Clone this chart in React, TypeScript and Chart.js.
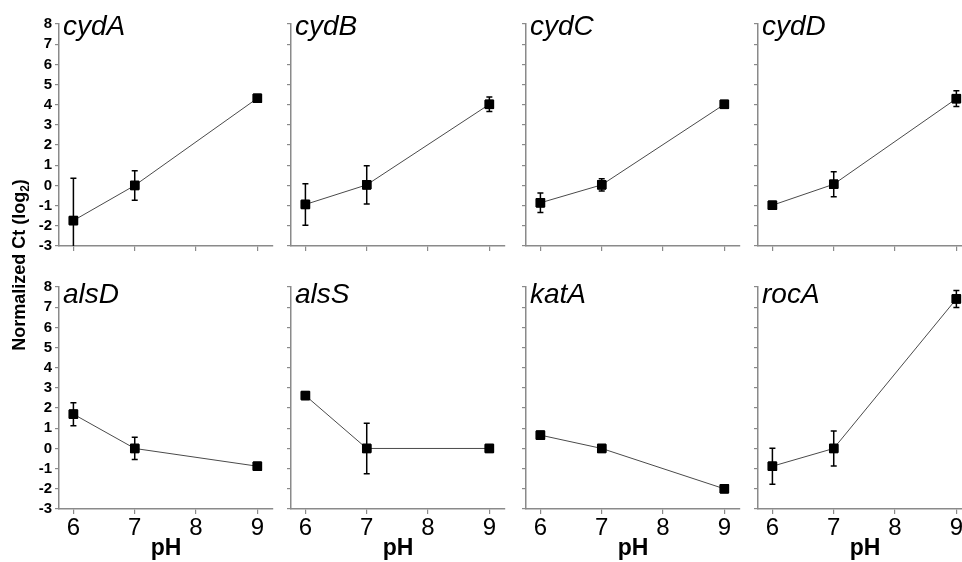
import React, { useEffect, useRef } from 'react';
import { Chart, registerables } from 'chart.js';

Chart.register(...registerables);

// ---------------- data ----------------
const GENES = ['cydA', 'cydB', 'cydC', 'cydD', 'alsD', 'alsS', 'katA', 'rocA'];
const PH = [6, 7, 9];
const X_TICKS = [6, 7, 8, 9];
const Y_TICKS = [-3, -2, -1, 0, 1, 2, 3, 4, 5, 6, 7, 8];

const cydA = [-1.74, 0, 4.32];
const cydA_err = [2.1, 0.73, 0.1];
const cydB = [-0.94, 0.03, 4.02];
const cydB_err = [1.03, 0.95, 0.36];
const cydC = [-0.86, 0.03, 4.02];
const cydC_err = [0.48, 0.3, 0.05];
const cydD = [-0.98, 0.06, 4.3];
const cydD_err = [0.05, 0.62, 0.39];
const alsD = [1.7, 0, -0.88];
const alsD_err = [0.57, 0.55, 0.05];
const alsS = [2.62, 0, 0];
const alsS_err = [0.1, 1.25, 0.15];
const katA = [0.66, 0, -2.0];
const katA_err = [0, 0, 0];
const rocA = [-0.88, 0, 7.41];
const rocA_err = [0.89, 0.87, 0.42];

const VALUES = [cydA, cydB, cydC, cydD, alsD, alsS, katA, rocA];
const ERRORS = [cydA_err, cydB_err, cydC_err, cydD_err, alsD_err, alsS_err, katA_err, rocA_err];

const Y_TITLE = 'Normalized Ct (log';
const Y_TITLE_SUB = '2';
const Y_TITLE_END = ')';
const X_TITLE = 'pH';

// ---------------- layout / style ----------------
const FONT = '"Liberation Sans", Arial, Helvetica, sans-serif';
const CANVAS_W = 980;
const CANVAS_H = 562;
const COL_LEFT = [59, 291, 526, 758];
const ROW_TOP = [24, 287];
const PLOT_W = 214;
const PLOT_H = 222;
const Y_AXIS_W = 50;
const X_AXIS_H = [6, 53];
const X_MIN = 5.765;
const X_MAX = 9.255;
const AXIS_COLOR = '#8a8a8a';
const TITLE_BASELINE = [35, 303];

function makeChart(canvas: HTMLCanvasElement, idx: number) {
  const col = idx % 4;
  const row = Math.floor(idx / 4);
  const L = COL_LEFT[col];
  const T = ROW_TOP[row];
  const xh = X_AXIS_H[row];
  const bottomRow = row === 1;
  const vals = VALUES[idx];
  const errs = ERRORS[idx];

  const panelPlugin = {
    id: 'panelExtras' + idx,
    afterDatasetsDraw(chart: any) {
      const ctx = chart.ctx;
      const xs = chart.scales.x;
      const ys = chart.scales.y;
      const area = chart.chartArea;
      ctx.save();
      ctx.beginPath();
      ctx.rect(area.left - 20, area.top - 1, area.right - area.left + 40, area.bottom - area.top + 1);
      ctx.clip();
      ctx.strokeStyle = '#000';
      ctx.lineWidth = 1.5;
      PH.forEach((x, i) => {
        const e = errs[i];
        if (!e) return;
        const px = xs.getPixelForValue(x);
        const pt = ys.getPixelForValue(vals[i] + e);
        const pb = ys.getPixelForValue(vals[i] - e);
        ctx.beginPath();
        ctx.moveTo(px, pt);
        ctx.lineTo(px, pb);
        ctx.moveTo(px - 3, pt);
        ctx.lineTo(px + 3, pt);
        ctx.moveTo(px - 3, pb);
        ctx.lineTo(px + 3, pb);
        ctx.stroke();
      });
      ctx.restore();
      // redraw markers over error bars
      const meta = chart.getDatasetMeta(0);
      meta.data.forEach((el: any) => el.draw(ctx, undefined));
    },
    afterDraw(chart: any) {
      const ctx = chart.ctx;
      ctx.save();
      ctx.fillStyle = '#000';
      ctx.font = `italic 28px ${FONT}`;
      ctx.textAlign = 'left';
      ctx.textBaseline = 'alphabetic';
      ctx.fillText(GENES[idx], L + 4, TITLE_BASELINE[row]);
      if (idx === 0) {
        const big = `bold 18px ${FONT}`;
        const small = `bold 12px ${FONT}`;
        ctx.font = big;
        const w1 = ctx.measureText(Y_TITLE).width;
        const w3 = ctx.measureText(Y_TITLE_END).width;
        ctx.font = small;
        const w2 = ctx.measureText(Y_TITLE_SUB).width;
        const total = w1 + w2 + w3;
        ctx.translate(25, 265);
        ctx.rotate(-Math.PI / 2);
        let x = -total / 2;
        ctx.font = big;
        ctx.fillText(Y_TITLE, x, 0);
        x += w1;
        ctx.font = small;
        ctx.fillText(Y_TITLE_SUB, x, 4);
        x += w2;
        ctx.font = big;
        ctx.fillText(Y_TITLE_END, x, 0);
      }
      ctx.restore();
    },
  };

  return new Chart(canvas, {
    type: 'line',
    data: {
      datasets: [
        {
          data: PH.map((x, i) => ({ x, y: vals[i] })),
          borderColor: '#4a4a4a',
          borderWidth: 1,
          pointStyle: 'rect',
          pointRadius: 6,
          pointBackgroundColor: '#000',
          pointBorderColor: '#000',
          pointBorderWidth: 1,
          tension: 0,
          clip: false as any,
        } as any,
      ],
    },
    options: {
      responsive: false,
      animation: false,
      devicePixelRatio: 1,
      events: [],
      layout: {
        padding: {
          left: L - Y_AXIS_W,
          top: T,
          right: CANVAS_W - (L + PLOT_W),
          bottom: CANVAS_H - (T + PLOT_H) - xh,
        },
      },
      plugins: {
        legend: { display: false },
        tooltip: { enabled: false },
        title: { display: false },
      },
      scales: {
        x: {
          type: 'linear',
          min: X_MIN,
          max: X_MAX,
          afterBuildTicks: (s: any) => {
            s.ticks = X_TICKS.map((v) => ({ value: v }));
          },
          afterFit: (s: any) => {
            s.height = xh;
          },
          grid: {
            display: true,
            drawOnChartArea: false,
            drawTicks: true,
            tickLength: 5,
            color: AXIS_COLOR,
            lineWidth: 1.2,
          },
          border: { display: true, color: AXIS_COLOR, width: 1.5 },
          ticks: {
            display: bottomRow,
            font: { family: FONT, size: 24 },
            color: '#000',
            padding: 0,
            maxRotation: 0,
            autoSkip: false,
          },
          title: {
            display: bottomRow,
            text: X_TITLE,
            font: { family: FONT, size: 23, weight: 'bold' },
            color: '#000',
            padding: { top: 0, bottom: 0 },
          },
        },
        y: {
          type: 'linear',
          min: -3,
          max: 8,
          afterBuildTicks: (s: any) => {
            s.ticks = Y_TICKS.map((v) => ({ value: v }));
          },
          afterFit: (s: any) => {
            s.width = Y_AXIS_W;
          },
          grid: {
            display: true,
            drawOnChartArea: false,
            drawTicks: true,
            tickLength: 4,
            color: AXIS_COLOR,
            lineWidth: 1.2,
          },
          border: { display: true, color: AXIS_COLOR, width: 1.5 },
          ticks: {
            display: col === 0,
            font: { family: FONT, size: 15, weight: 'bold' },
            color: '#000',
            padding: 3,
            autoSkip: false,
          },
        },
      },
    } as any,
    plugins: [panelPlugin],
  });
}

function Panel({ index }: { index: number }) {
  const ref = useRef<HTMLCanvasElement | null>(null);
  useEffect(() => {
    if (!ref.current) return;
    const chart = makeChart(ref.current, index);
    return () => chart.destroy();
  }, [index]);
  return (
    <canvas
      ref={ref}
      width={CANVAS_W}
      height={CANVAS_H}
      style={{ position: 'absolute', left: 0, top: 0, width: CANVAS_W, height: CANVAS_H }}
    />
  );
}

export default function App() {
  return (
    <div
      style={{
        position: 'fixed',
        left: 0,
        top: 0,
        width: 962,
        height: 562,
        overflow: 'hidden',
        background: '#fff',
      }}
    >
      {GENES.map((g, i) => (
        <Panel key={g} index={i} />
      ))}
    </div>
  );
}
